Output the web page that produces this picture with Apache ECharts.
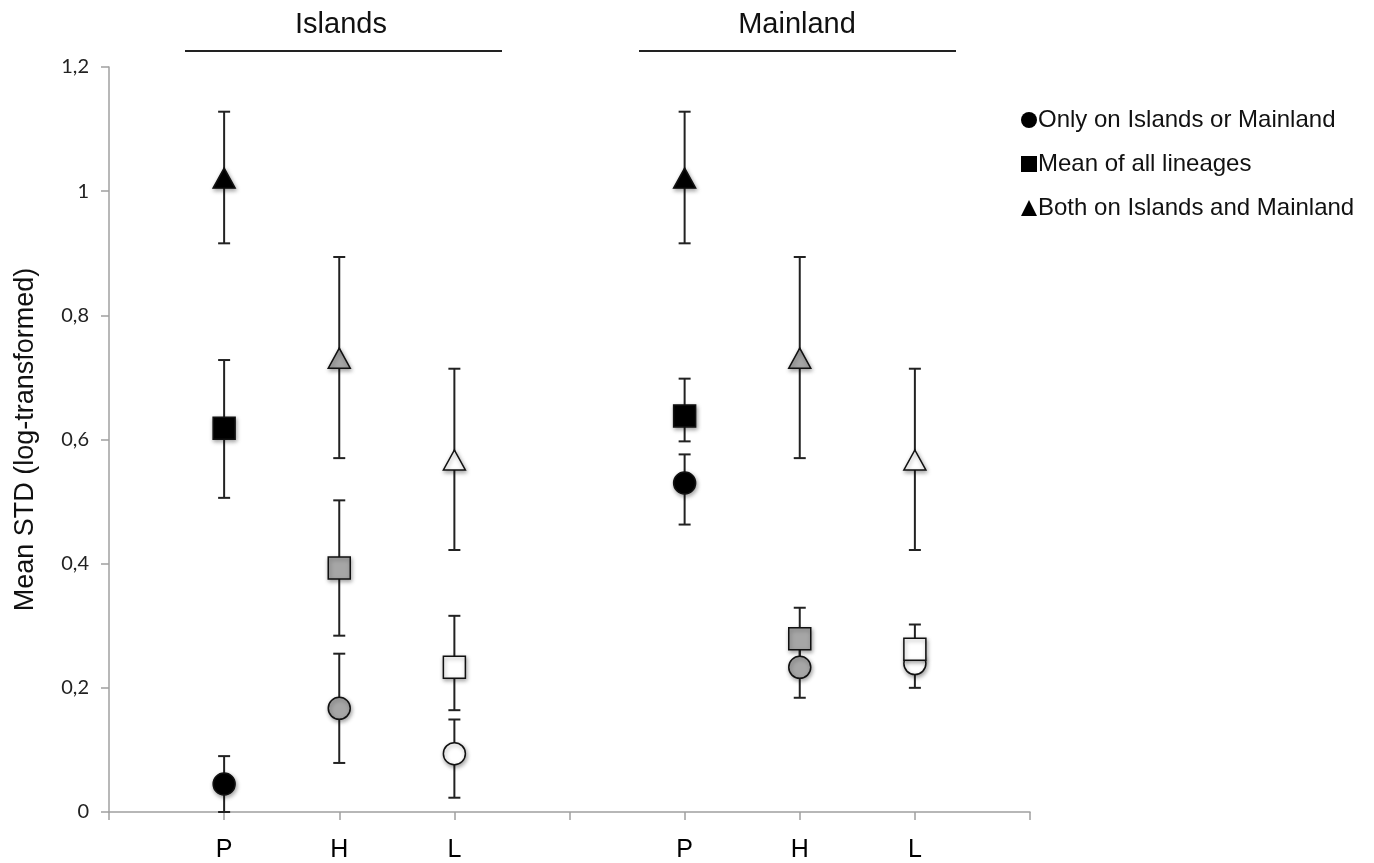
<!DOCTYPE html>
<html>
<head>
<meta charset="utf-8">
<script src="https://cdn.jsdelivr.net/npm/echarts@6/dist/echarts.min.js"></script>
<style>
  html, body { margin: 0; padding: 0; background: #fff; }
  #chart { width: 1374px; height: 863px; }
</style>
</head>
<body>
<div id="chart"></div>
<script>
// x positions: empty slots act as padding/gap between the two groups
const categories = ["", "P", "H", "L", "", "P", "H", "L", ""];
const positions = [1, 2, 3, 5, 6, 7];
const fills = ["#000000", "#a6a6a6", "#ffffff", "#000000", "#a6a6a6", "#ffffff"];

// Only on Islands or Mainland (circles)
const onlyMean = [0.045, 0.167, 0.094, 0.530, 0.233, 0.239];
const onlyLow = [0.0, 0.079, 0.023, 0.463, 0.184, 0.200];
const onlyHigh = [0.090, 0.255, 0.149, 0.576, 0.282, 0.278];

// Mean of all lineages (squares)
const allMean = [0.618, 0.393, 0.233, 0.638, 0.279, 0.262];
const allLow = [0.506, 0.284, 0.164, 0.597, 0.229, 0.232];
const allHigh = [0.728, 0.502, 0.316, 0.698, 0.329, 0.302];

// Both on Islands and Mainland (triangles)
const bothMean = [1.021, 0.731, 0.567, 1.021, 0.731, 0.567];
const bothLow = [0.916, 0.570, 0.422, 0.916, 0.570, 0.422];
const bothHigh = [1.128, 0.894, 0.714, 1.128, 0.894, 0.714];

const seriesNames = [
  "Only on Islands or Mainland",
  "Mean of all lineages",
  "Both on Islands and Mainland",
];

const chart = echarts.init(document.getElementById("chart"));

function points(values) {
  return values.map((v, i) => ({
    value: [positions[i], v],
    itemStyle: { color: fills[i] },
  }));
}

function bars(low, high) {
  return low.map((l, i) => [positions[i], l, high[i]]);
}

function renderErrorBar(params, api) {
  const x = api.value(0);
  const lo = api.coord([x, api.value(1)]);
  const hi = api.coord([x, api.value(2)]);
  const w = 6;
  const style = { stroke: "#222", lineWidth: 2 };
  return {
    type: "group",
    children: [
      { type: "line", shape: { x1: lo[0], y1: lo[1], x2: hi[0], y2: hi[1] }, style },
      { type: "line", shape: { x1: hi[0] - w, y1: hi[1], x2: hi[0] + w, y2: hi[1] }, style },
      { type: "line", shape: { x1: lo[0] - w, y1: lo[1], x2: lo[0] + w, y2: lo[1] }, style },
    ],
  };
}

const markerStyle = {
  color: "#000",
  opacity: 1,
  borderColor: "#111",
  borderWidth: 1.5,
  shadowBlur: 4,
  shadowOffsetX: 1,
  shadowOffsetY: 2,
  shadowColor: "rgba(0,0,0,0.35)",
};

const errorSeries = [
  [onlyLow, onlyHigh],
  [allLow, allHigh],
  [bothLow, bothHigh],
].map(([l, h]) => ({
  type: "custom",
  renderItem: renderErrorBar,
  data: bars(l, h),
  encode: { x: 0, y: [1, 2] },
  z: 1,
  silent: true,
}));

const titleFont = "29px 'Liberation Sans', Arial, sans-serif";

const option = {
  animation: false,
  backgroundColor: "#fff",
  grid: { left: 109, right: 344, top: 67, bottom: 51 },
  legend: {
    orient: "vertical",
    left: 1016,
    top: 103,
    itemWidth: 16,
    itemHeight: 16,
    itemGap: 20,
    data: [
      { name: seriesNames[0], icon: "circle" },
      { name: seriesNames[1], icon: "rect" },
      { name: seriesNames[2], icon: "triangle" },
    ],
    itemStyle: { color: "#000", opacity: 1, borderWidth: 0, shadowBlur: 0, shadowOffsetX: 0, shadowOffsetY: 0 },
    textStyle: { fontFamily: "Liberation Sans, Arial, sans-serif", fontSize: 24, color: "#111", padding: [0, 0, 0, -4] },
  },
  graphic: [
    { type: "text", x: 341, y: 10, style: { text: "Islands", font: titleFont, fill: "#111", align: "center", textAlign: "center" } },
    { type: "line", shape: { x1: 185, y1: 51, x2: 502, y2: 51 }, style: { stroke: "#222", lineWidth: 2 } },
    { type: "text", x: 797, y: 10, style: { text: "Mainland", font: titleFont, fill: "#111", align: "center", textAlign: "center" } },
    { type: "line", shape: { x1: 639, y1: 51, x2: 956, y2: 51 }, style: { stroke: "#222", lineWidth: 2 } },
  ],
  xAxis: {
    type: "category",
    data: categories,
    boundaryGap: false,
    axisLine: { lineStyle: { color: "#a0a0a0", width: 1.5 } },
    axisTick: { show: true, interval: 0, length: 8, lineStyle: { color: "#a0a0a0", width: 1.5 } },
    axisLabel: {
      interval: 0,
      margin: 26,
      color: "#000",
      fontSize: 25,
      fontFamily: "Liberation Sans, Arial, sans-serif",
    },
    splitLine: { show: false },
  },
  yAxis: {
    type: "value",
    min: 0,
    max: 1.2,
    interval: 0.2,
    name: "Mean STD (log-transformed)",
    nameLocation: "middle",
    nameGap: 70,
    nameTextStyle: { fontSize: 27, color: "#111", fontFamily: "Liberation Sans, Arial, sans-serif" },
    axisLine: { show: true, lineStyle: { color: "#a0a0a0", width: 1.5 } },
    axisTick: { show: true, length: 8, lineStyle: { color: "#a0a0a0", width: 1.5 } },
    axisLabel: {
      margin: 20,
      color: "#222",
      fontSize: 20,
      fontFamily: "Lato, 'Open Sans', sans-serif",
      formatter: (v) => String(Math.round(v * 10) / 10).replace(".", ","),
    },
    splitLine: { show: false },
  },
  series: [
    ...errorSeries,
    {
      name: seriesNames[0],
      type: "scatter",
      symbol: "circle",
      symbolSize: 22,
      itemStyle: markerStyle,
      data: points(onlyMean),
      z: 2,
    },
    {
      name: seriesNames[1],
      type: "scatter",
      symbol: "rect",
      symbolSize: 22,
      itemStyle: markerStyle,
      data: points(allMean),
      z: 3,
    },
    {
      name: seriesNames[2],
      type: "scatter",
      symbol: "triangle",
      symbolSize: [22, 20],
      itemStyle: markerStyle,
      data: points(bothMean),
      z: 4,
    },
  ],
};

chart.setOption(option);
</script>
</body>
</html>
